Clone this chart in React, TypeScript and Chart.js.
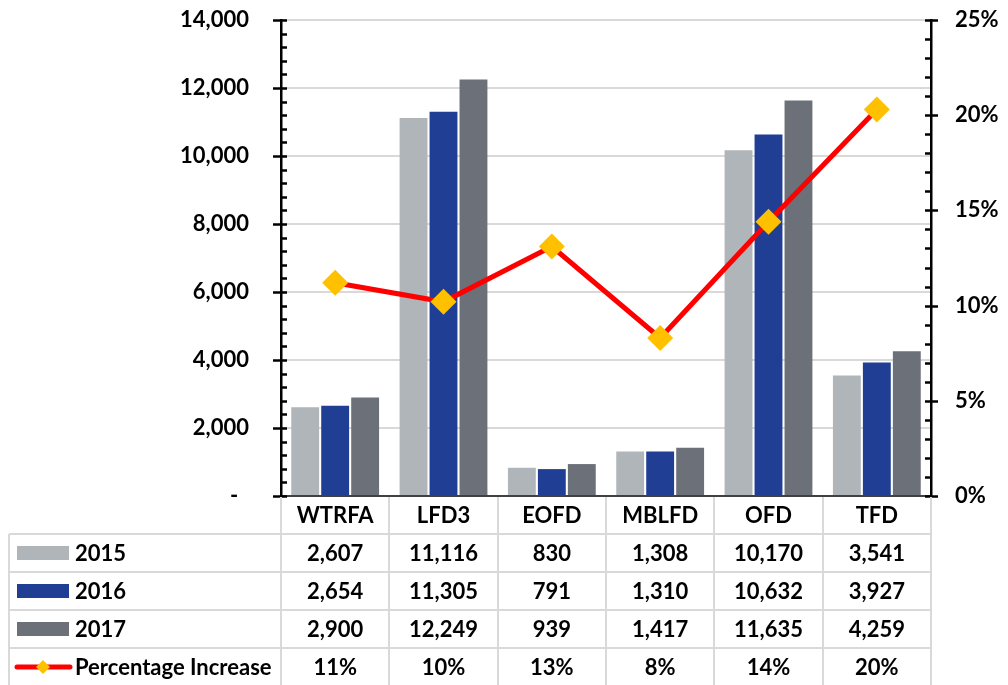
import React, { useEffect, useRef } from 'react';
import { Chart, registerables } from 'chart.js';

Chart.register(...registerables);

const categories = ['WTRFA', 'LFD3', 'EOFD', 'MBLFD', 'OFD', 'TFD'];
const values2015 = [2607, 11116, 830, 1308, 10170, 3541];
const values2016 = [2654, 11305, 791, 1310, 10632, 3927];
const values2017 = [2900, 12249, 939, 1417, 11635, 4259];
const pctIncrease = [11.2, 10.2, 13.1, 8.3, 14.4, 20.3];
const pctLabels = ['11%', '10%', '13%', '8%', '14%', '20%'];
const seriesNames = ['2015', '2016', '2017', 'Percentage Increase'];

const COLOR_2015 = '#AFB5B9';
const COLOR_2016 = '#1F3E94';
const COLOR_2017 = '#6B7079';
const COLOR_LINE = '#FF0000';
const COLOR_MARK = '#FFC000';
const GRID = '#D9D9D9';
const FONT = 'Lato, "Open Sans", sans-serif';

const fmt = (v: number) => v.toLocaleString('en-US');

const tablePlugin = {
  id: 'tableAndTicks',
  afterDraw(chart: any) {
    const ctx: CanvasRenderingContext2D = chart.ctx;
    const xs = chart.scales.x;
    const ys = chart.scales.y;
    const y1 = chart.scales.y1;
    const area = chart.chartArea;
    const H = chart.height;

    ctx.save();
    ctx.strokeStyle = '#000';
    ctx.lineWidth = 2.5;
    for (let v = 0; v <= 14000; v += 400) {
      const py = Math.round(ys.getPixelForValue(v)) + 0.5;
      const major = v % 2000 === 0;
      ctx.beginPath();
      ctx.moveTo(area.left - (major ? 8 : 0), py);
      ctx.lineTo(area.left + 6, py);
      ctx.stroke();
    }
    for (let v = 0; v <= 25; v += 1) {
      const py = Math.round(y1.getPixelForValue(v)) + 0.5;
      const major = v % 5 === 0;
      ctx.beginPath();
      ctx.moveTo(area.right - 6, py);
      ctx.lineTo(area.right + (major ? 7 : 0), py);
      ctx.stroke();
    }

    const n = categories.length;
    const colW = (xs.right - xs.left) / n;
    const headerTop = area.bottom;
    const headerBottom = headerTop + 38;
    const rowH = 38;
    const labelLeft = 9;
    const rowTops = [headerBottom, headerBottom + rowH, headerBottom + 2 * rowH, headerBottom + 3 * rowH];

    ctx.strokeStyle = GRID;
    ctx.lineWidth = 2;
    for (let i = 0; i <= n; i++) {
      const bx = Math.round(xs.left + i * colW);
      ctx.beginPath();
      ctx.moveTo(bx, headerTop + 1);
      ctx.lineTo(bx, H);
      ctx.stroke();
    }
    ctx.beginPath();
    ctx.moveTo(labelLeft, headerBottom);
    ctx.lineTo(labelLeft, H);
    ctx.stroke();
    for (let r = 0; r < rowTops.length; r++) {
      ctx.beginPath();
      ctx.moveTo(labelLeft, rowTops[r]);
      ctx.lineTo(xs.right, rowTops[r]);
      ctx.stroke();
    }

    ctx.fillStyle = '#000';
    ctx.textAlign = 'center';
    ctx.textBaseline = 'middle';
    ctx.font = `bold 22px ${FONT}`;
    for (let i = 0; i < n; i++) {
      const cx = xs.getPixelForValue(i);
      ctx.fillText(categories[i], cx, (headerTop + headerBottom) / 2 + 1);
    }

    const rows: string[][] = [
      values2015.map(fmt),
      values2016.map(fmt),
      values2017.map(fmt),
      pctLabels,
    ];
    const swatchColors = [COLOR_2015, COLOR_2016, COLOR_2017];
    for (let r = 0; r < rows.length; r++) {
      const cy = rowTops[r] + rowH / 2;
      if (r < 3) {
        ctx.fillStyle = swatchColors[r];
        ctx.fillRect(17, cy - 7, 52, 14);
      } else {
        ctx.strokeStyle = COLOR_LINE;
        ctx.lineWidth = 5;
        ctx.lineCap = 'round';
        ctx.beginPath();
        ctx.moveTo(17, cy);
        ctx.lineTo(70, cy);
        ctx.stroke();
        ctx.fillStyle = COLOR_MARK;
        ctx.beginPath();
        ctx.moveTo(43 - 7, cy);
        ctx.lineTo(43, cy - 7);
        ctx.lineTo(43 + 7, cy);
        ctx.lineTo(43, cy + 7);
        ctx.closePath();
        ctx.fill();
      }
      ctx.fillStyle = '#000';
      ctx.textAlign = 'left';
      ctx.fillText(seriesNames[r], 75, cy + 1);
      ctx.textAlign = 'center';
      for (let i = 0; i < n; i++) {
        ctx.fillText(rows[r][i], xs.getPixelForValue(i), cy + 1);
      }
    }
    ctx.restore();
  },
};

const zeroPad = (s: any) => {
  s.paddingTop = 0;
  s.paddingBottom = 0;
  s.paddingLeft = 0;
  s.paddingRight = 0;
};

export default function App() {
  const ref = useRef<HTMLCanvasElement>(null);
  useEffect(() => {
    if (!ref.current) return;
    const tickFont = { family: FONT, weight: 'bold' as const, size: 22 };
    const chart = new Chart(ref.current, {
      type: 'bar',
      data: {
        labels: categories,
        datasets: [
          {
            type: 'line' as const,
            label: seriesNames[3],
            data: pctIncrease,
            yAxisID: 'y1',
            borderColor: COLOR_LINE,
            borderWidth: 5,
            pointStyle: 'rectRot',
            pointRadius: 13,
            pointBackgroundColor: COLOR_MARK,
            pointBorderColor: COLOR_MARK,
            pointBorderWidth: 0,
            tension: 0,
            order: 0,
          } as any,
          { label: seriesNames[0], data: values2015, backgroundColor: COLOR_2015, yAxisID: 'y', order: 1 },
          { label: seriesNames[1], data: values2016, backgroundColor: COLOR_2016, yAxisID: 'y', order: 1 },
          { label: seriesNames[2], data: values2017, backgroundColor: COLOR_2017, yAxisID: 'y', order: 1 },
        ],
      },
      options: {
        responsive: false,
        animation: false,
        layout: { padding: { top: 20, left: 0, right: 0, bottom: 0 } },
        plugins: { legend: { display: false }, tooltip: { enabled: false } },
        datasets: { bar: { categoryPercentage: 0.83, barPercentage: 0.93 } },
        scales: {
          x: {
            position: 'bottom',
            grid: { display: false, drawTicks: false },
            border: { color: '#404040', width: 2 },
            ticks: { display: false },
            afterFit(s: any) { s.height = 189; zeroPad(s); },
          },
          y: {
            position: 'left',
            min: 0,
            max: 14000,
            ticks: {
              stepSize: 2000,
              padding: 32,
              color: '#000',
              font: tickFont,
              callback: (v: any) => (Number(v) === 0 ? '-  ' : fmt(Number(v))),
            },
            grid: { color: GRID, lineWidth: 2, drawTicks: false },
            border: { color: '#000', width: 2.5 },
            afterFit(s: any) { s.width = 281; zeroPad(s); },
          },
          y1: {
            position: 'right',
            min: 0,
            max: 25,
            ticks: {
              stepSize: 5,
              padding: 24,
              color: '#000',
              font: tickFont,
              callback: (v: any) => `${v}%`,
            },
            grid: { display: false, drawTicks: false },
            border: { color: '#000', width: 2.5 },
            afterFit(s: any) { s.width = 77; zeroPad(s); },
          },
        },
      } as any,
      plugins: [tablePlugin],
    });
    return () => chart.destroy();
  }, []);
  return (
    <div style={{ position: 'fixed', left: 0, top: 0, width: 1008, height: 685, background: '#fff' }}>
      <canvas ref={ref} width={1008} height={685} style={{ display: 'block' }} />
    </div>
  );
}
